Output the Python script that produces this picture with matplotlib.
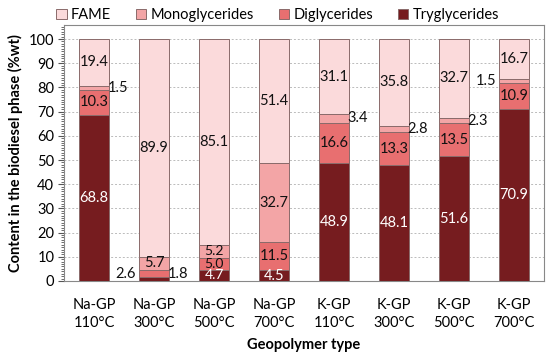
import matplotlib
matplotlib.use("Agg")
import matplotlib.pyplot as plt
import numpy as np
from matplotlib.ticker import MultipleLocator

plt.rcParams['font.family'] = ['Lato', 'DejaVu Sans']

categories = ["Na-GP\n110°C", "Na-GP\n300°C", "Na-GP\n500°C", "Na-GP\n700°C",
              "K-GP\n110°C", "K-GP\n300°C", "K-GP\n500°C", "K-GP\n700°C"]
tryglycerides = [68.8, 1.8, 4.7, 4.5, 48.9, 48.1, 51.6, 70.9]
diglycerides = [10.3, 2.6, 5.0, 11.5, 16.6, 13.3, 13.5, 10.9]
monoglycerides = [1.5, 5.7, 5.2, 32.7, 3.4, 2.8, 2.3, 1.5]
fame = [19.4, 89.9, 85.1, 51.4, 31.1, 35.8, 32.7, 16.7]

series = [("Tryglycerides", tryglycerides, "#761c1f"),
          ("Diglycerides", diglycerides, "#e86f70"),
          ("Monoglycerides", monoglycerides, "#f3a5a6"),
          ("FAME", fame, "#fbdadb")]

# label placement: 'in' inside, 'L' left, 'R' right
placement = {
    "Tryglycerides": ['in', 'R', 'in', 'in', 'in', 'in', 'in', 'in'],
    "Diglycerides": ['in', 'L', 'in', 'in', 'in', 'in', 'in', 'in'],
    "Monoglycerides": ['R', 'in', 'in', 'in', 'R', 'R', 'R', 'L'],
    "FAME": ['in'] * 8,
}

fig = plt.figure(figsize=(5.5, 3.56), dpi=100)
ax = fig.add_axes([0.1164, 0.2107, 0.8727, 0.7191])

x = np.arange(len(categories))
width = 0.5
bottom = np.zeros(len(categories))
handles = {}
for name, vals, col in series:
    vals = np.array(vals)
    b = ax.bar(x, vals, width, bottom=bottom, color=col, edgecolor="#8a6a6a",
               linewidth=0.7, zorder=3, label=name)
    handles[name] = b
    for i, v in enumerate(vals):
        yc = bottom[i] + v / 2
        pl = placement[name][i]
        tc = 'white' if name == "Tryglycerides" else '#111111'
        fs = 10.5
        if name != "FAME" and i == 2:
            fs = 10
        if pl == 'in':
            ax.text(x[i], yc, f"{v:.1f}", ha='center', va='center', fontsize=fs,
                    color=tc, zorder=5)
        elif pl == 'R':
            if name == "Tryglycerides":
                yc = 2.9
            ax.text(x[i] + width / 2 - 0.02, yc, f"{v:.1f}", ha='left', va='center',
                    fontsize=10.5, color='#111111', zorder=5)
        else:
            if name == "Diglycerides":
                yc = 3.0
            ax.text(x[i] - width / 2 - 0.05, yc, f"{v:.1f}", ha='right', va='center',
                    fontsize=10.5, color='#111111', zorder=5)
    bottom += vals

ax.set_xlim(-0.5, len(categories) - 0.5)
ax.set_ylim(0, 105.8)
ax.set_yticks(np.arange(0, 101, 10))
ax.yaxis.set_minor_locator(MultipleLocator(1))
ax.tick_params(axis='y', which='major', length=4, width=0.8, color='#555555', labelsize=10.5, pad=3)
ax.tick_params(axis='y', which='minor', length=2.5, width=0.6, color='#555555')
ax.set_xticks(x)
ax.set_xticklabels(categories, fontsize=10.5, linespacing=1.4)
ax.tick_params(axis='x', length=0, pad=12)
ax.grid(axis='y', which='major', linestyle=(0, (2, 2)), color='#bbbbbb', linewidth=0.7, zorder=0)
for s in ax.spines.values():
    s.set_color('#888888')
    s.set_linewidth(0.8)

ax.set_xlabel("Geopolymer type", fontsize=10.5, fontweight='bold', labelpad=6)
ax.set_ylabel("Content in the biodiesel phase (%wt)", fontsize=10.5, fontweight='bold', labelpad=4)

order = ["FAME", "Monoglycerides", "Diglycerides", "Tryglycerides"]
fig.legend([handles[n] for n in order], order, loc='upper center',
           bbox_to_anchor=(0.505, 1.015), ncol=4, frameon=False, fontsize=10.5,
           handlelength=0.7, handleheight=0.7, handletextpad=0.3, columnspacing=1.7)

fig.savefig("out.png", dpi=100)
